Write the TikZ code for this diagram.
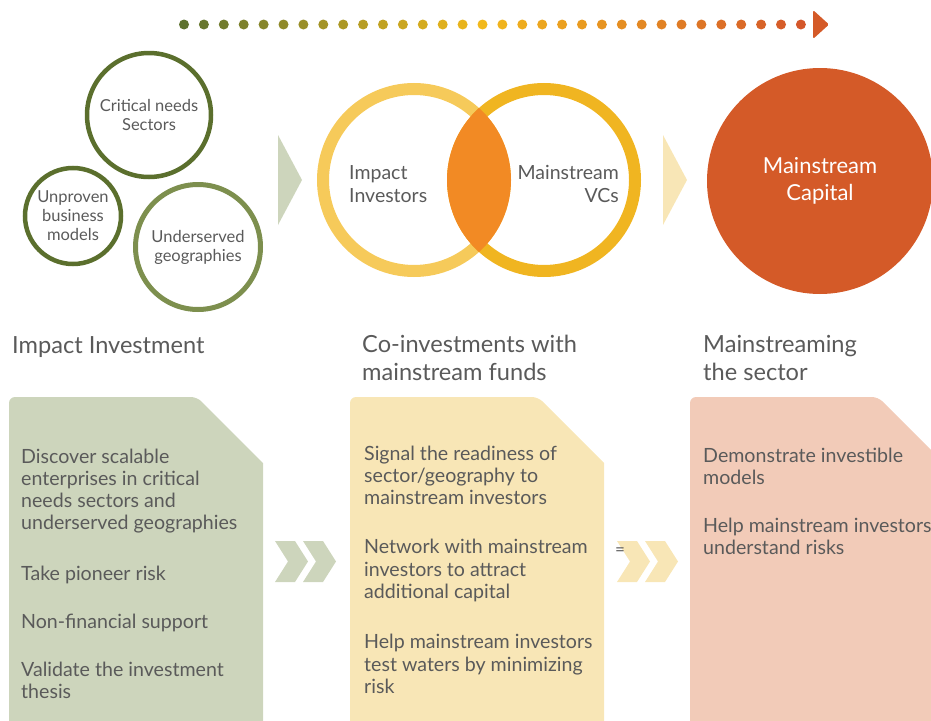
\documentclass[tikz,border=0pt]{standalone}
\usepackage{fontspec}
\setmainfont{Lato}
\definecolor{tgray}{HTML}{5A5A5A}
\definecolor{olivedark}{HTML}{5B6F2D}
\definecolor{olivelight}{HTML}{7D8F4E}
\definecolor{palegreen}{HTML}{CDD5BC}
\definecolor{paleyellow}{HTML}{F8E6B6}
\definecolor{palepink}{HTML}{F2CBB8}
\definecolor{ringlight}{HTML}{F6CA5A}
\definecolor{ringdark}{HTML}{F0B521}
\definecolor{lensorange}{HTML}{F28A24}
\definecolor{capital}{HTML}{D45A28}
\definecolor{dotgreen}{HTML}{5E722F}
\definecolor{dotyellow}{HTML}{F2B91C}
\definecolor{dotorange}{HTML}{D4572A}
\begin{document}
\begin{tikzpicture}[x=1pt,y=-1pt,
  line/.style={inner sep=0pt, anchor=base west, text=tgray, font=\fontsize{19.6}{22}\selectfont},
  title/.style={inner sep=0pt, anchor=base west, text=tgray, font=\fontsize{23.6}{28}\selectfont},
  venntxt/.style={inner sep=0pt, text=tgray, font=\fontsize{19.5}{23}\selectfont},
  ring/.style={circle, inner sep=0pt, align=center, text=tgray, font=\fontsize{16.5}{19}\selectfont}]
\useasboundingbox (0,0) rectangle (931,720);
\clip (0,0) rectangle (931,720);

% top dotted arrow
\foreach \i in {0,...,31}{
  \ifnum\i<16
    \pgfmathtruncatemacro\p{round(\i*100/15)}
    \colorlet{dotc}{dotyellow!\p!dotgreen}
  \else
    \pgfmathtruncatemacro\p{round((\i-15)*100/16)}
    \colorlet{dotc}{dotorange!\p!dotyellow}
  \fi
  \fill[dotc] ({184+\i*19.9},24.5) circle (5);
}
\fill[capital, rounded corners=1.5pt] (813,10) -- (829,24.5) -- (813,39) -- cycle;

% left circles
\node (crit) [ring, draw=olivedark, line width=4.5pt, minimum size=124pt] at (149,115) {Critical needs\\Sectors};
\node (unpr) [ring, draw=olivedark, line width=4.5pt, minimum size=96pt] at (73,216) {Unproven\\business\\models};
\node (unds) [ring, draw=olivelight, line width=5pt, minimum size=125pt] at (198,247) {Underserved\\geographies};

% big chevrons
\fill[palegreen] (278,135) -- (302,180) -- (278,225) -- cycle;
\fill[paleyellow] (663,135) -- (687,180) -- (663,225) -- cycle;

% venn
\node (imp) [circle, draw=ringlight, line width=12pt, minimum size=182pt, inner sep=0pt] at (414,180) {};
\node (vcs) [circle, draw=ringdark, line width=12pt, minimum size=182pt, inner sep=0pt] at (544,180) {};
\begin{scope}
  \clip (414,180) circle (97);
  \fill[lensorange] (544,180) circle (97);
\end{scope}
\node (impa) [venntxt, anchor=base west] at (349,179) {Impact};
\node (impb) [venntxt, anchor=base west] at (349,202) {Investors};
\node (vca) [venntxt, anchor=base east] at (619,179) {Mainstream};
\node (vcb) [venntxt, anchor=base east] at (619,202) {VCs};

% mainstream capital
\node (mcap) [circle, fill=capital, minimum size=226pt, inner sep=0pt, align=center, text=white, font=\fontsize{22}{27}\selectfont] at (820,181) {Mainstream\\Capital};

% titles
\node (t1) [title] at (12,353) {Impact Investment};
\node (t2a) [title] at (362,352) {Co-investments with};
\node (t2b) [title] at (362,380) {mainstream funds};
\node (t3a) [title] at (703,352) {Mainstreaming};
\node (t3b) [title] at (703,380) {the sector};

% cards
\foreach \x/\c in {9/palegreen, 350/paleyellow, 690/palepink}{
  \fill[\c] (\x,722) [rounded corners=6pt] -- (\x,397) -- ({\x+188},397) [sharp corners] -- ({\x+254},463) -- ({\x+254},722) -- cycle;
}

% card 1 text
\node (a1) [line] at (21,463) {Discover scalable};
\node (a2) [line] at (21,485) {enterprises in critical};
\node (a3) [line] at (21,507) {needs sectors and};
\node (a4) [line] at (21,529) {underserved geographies};
\node (a5) [line] at (21,580) {Take pioneer risk};
\node (a6) [line] at (21,628) {Non-financial support};
\node (a7) [line] at (21,676) {Validate the investment};
\node (a8) [line] at (21,698) {thesis};

% card 2 text
\node (b1) [line] at (364,460) {Signal the readiness of};
\node (b2) [line] at (364,482) {sector/geography to};
\node (b3) [line] at (364,504) {mainstream investors};
\node (b4) [line] at (364,553) {Network with mainstream};
\node (b5) [line] at (364,576) {investors to attract};
\node (b6) [line] at (364,598) {additional capital};
\node (b7) [line] at (364,648) {Help mainstream investors};
\node (b8) [line] at (364,671) {test waters by minimizing};
\node (b9) [line] at (364,693) {risk};

% card 3 text
\node (c1) [line] at (703,462) {Demonstrate investible};
\node (c2) [line] at (703,484) {models};
\node (c3) [line] at (703,532) {Help mainstream investors};
\node (c4) [line] at (703,554) {understand risks};

% small chevrons
\foreach \x in {275,303}{
  \fill[palegreen] (\x,541) -- ({\x+20},541) -- ({\x+33},561.5) -- ({\x+20},582) -- (\x,582) -- ({\x+13},561.5) -- cycle;
}
\foreach \x in {617,645}{
  \fill[paleyellow] (\x,541) -- ({\x+20},541) -- ({\x+33},561.5) -- ({\x+20},582) -- (\x,582) -- ({\x+13},561.5) -- cycle;
}
\node (eq) [inner sep=0pt, text=tgray, font=\fontsize{17}{20}\selectfont] at (620,551.5) {=};
\end{tikzpicture}
\end{document}
